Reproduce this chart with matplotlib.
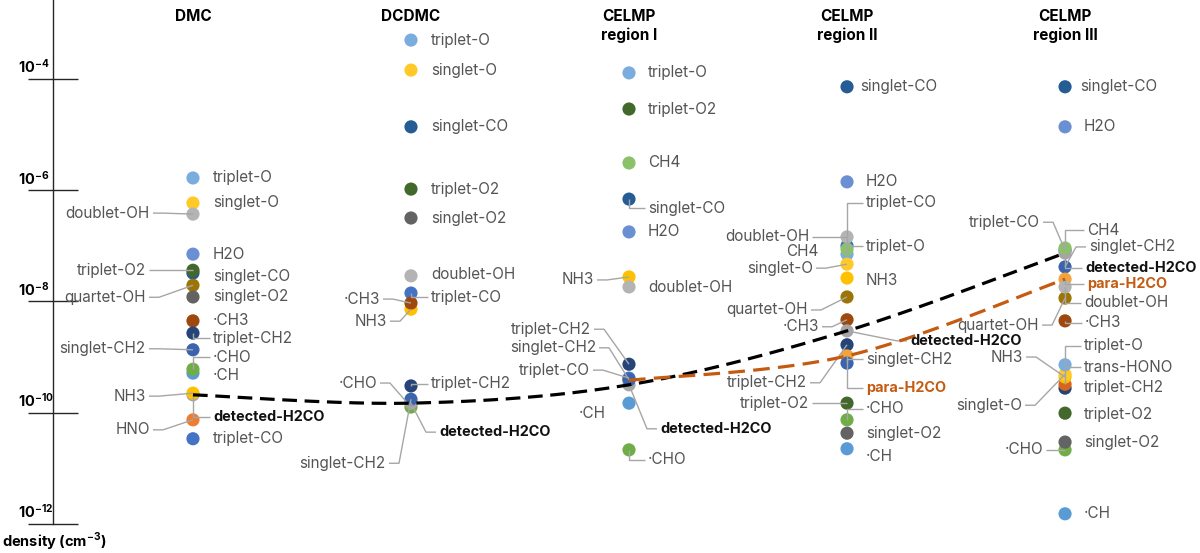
import numpy as np
import matplotlib
matplotlib.use("Agg")
import matplotlib.pyplot as plt
from matplotlib.transforms import blended_transform_factory

plt.rcParams['font.family'] = ['Inter', 'DejaVu Sans']
plt.rcParams['mathtext.fontset'] = 'custom'
plt.rcParams['mathtext.rm'] = 'Inter'
plt.rcParams['mathtext.bf'] = 'Inter:bold'

# ---------------- data ----------------
columns = ["DMC", "DCDMC", "CELMP\nregion I", "CELMP\nregion II", "CELMP\nregion III"]
tick_exponents = [-4, -6, -8, -10, -12]

# log10 of density (cm^-3); list order = drawing order
dmc_species = ["triplet-O", "singlet-O", "doublet-OH", "H2O", "singlet-CO", "triplet-O2",
               "quartet-OH", "singlet-O2", "·CH3", "triplet-CH2", "singlet-CH2", "·CH",
               "·CHO", "detected-H2CO", "NH3", "HNO", "triplet-CO"]
dmc_log_density = [-5.78, -6.23, -6.43, -7.15, -7.49, -7.44, -7.71, -7.92, -8.35, -8.57,
                   -8.87, -9.29, -9.22, -9.68, -9.65, -10.13, -10.47]

dcdmc_species = ["triplet-O", "singlet-O", "singlet-CO", "triplet-O2", "singlet-O2",
                 "doublet-OH", "NH3", "triplet-CO", "·CH3", "triplet-CH2", "·CHO",
                 "detected-H2CO", "singlet-CH2"]
dcdmc_log_density = [-3.30, -3.84, -4.86, -5.98, -6.50, -7.54, -8.14, -7.85, -8.03, -9.52,
                     -9.90, -9.83, -9.76]

celmp1_species = ["triplet-O", "triplet-O2", "CH4", "singlet-CO", "H2O", "NH3", "doublet-OH",
                  "triplet-CH2", "para-H2CO", "detected-H2CO", "triplet-CO", "singlet-CH2",
                  "·CH", "·CHO"]
celmp1_log_density = [-3.89, -4.54, -5.51, -6.16, -6.75, -7.56, -7.74, -9.13, -9.42, -9.50,
                      -9.38, -9.41, -9.83, -10.67]

celmp2_species = ["singlet-CO", "H2O", "triplet-CO", "doublet-OH", "triplet-O", "CH4",
                  "singlet-O", "NH3", "quartet-OH", "·CH3", "detected-H2CO", "triplet-CH2",
                  "para-H2CO", "singlet-CH2", "triplet-O2", "·CHO", "singlet-O2", "·CH"]
celmp2_log_density = [-4.14, -5.85, -7.00, -6.84, -7.15, -7.06, -7.33, -7.58, -7.92, -8.33,
                      -8.53, -8.78, -8.98, -9.11, -9.83, -10.13, -10.37, -10.65]

celmp3_species = ["singlet-CO", "H2O", "triplet-CO", "detected-H2CO", "CH4", "singlet-CH2",
                  "para-H2CO", "quartet-OH", "doublet-OH", "·CH3", "triplet-CH2", "trans-HONO",
                  "NH3", "singlet-O", "triplet-O", "triplet-O2", "·CHO", "singlet-O2", "·CH"]
celmp3_log_density = [-4.14, -4.86, -7.08, -7.13, -7.04, -7.38, -7.60, -7.94, -7.74, -8.35,
                      -9.56, -9.49, -9.36, -9.31, -9.14, -10.01, -10.67, -10.53, -11.82]

column_species = [dmc_species, dcdmc_species, celmp1_species, celmp2_species, celmp3_species]
column_log_density = [dmc_log_density, dcdmc_log_density, celmp1_log_density,
                      celmp2_log_density, celmp3_log_density]

# ---------------- styles ----------------
species_colors = {
    "triplet-O": "#7AADDE", "singlet-O": "#FFC928", "singlet-CO": "#245C93",
    "triplet-O2": "#43682B", "singlet-O2": "#636363", "doublet-OH": "#B4B4B4",
    "H2O": "#6A8FD3", "quartet-OH": "#9C7506", "·CH3": "#9E480E", "triplet-CH2": "#264478",
    "singlet-CH2": "#3A64AE", "·CHO": "#70AD47", "·CH": "#5B9BD5", "NH3": "#FFC000",
    "detected-H2CO": "#A5A5A5", "HNO": "#ED7D31", "triplet-CO": "#4472C4",
    "CH4": "#8BC168", "para-H2CO": "#F4A23A", "trans-HONO": "#D8651C",
}

# label placement: (species, dx px, dy px (up +), leader line)
label_layout = [
    [("triplet-O", 20, 0, False), ("singlet-O", 20, 0, False), ("doublet-OH", -43, 1, True),
     ("H2O", 20, 0, False), ("singlet-CO", 20, -3, False), ("triplet-O2", -47, 0, True),
     ("quartet-OH", -47, -12, True), ("singlet-O2", 20, 0, False), ("·CH3", 20, 0, False),
     ("triplet-CH2", 20, -5, True), ("singlet-CH2", -47, 1, True), ("·CHO", 20, 12, True),
     ("·CH", 20, -2, False), ("NH3", -47, -3, True), ("detected-H2CO", 20, -22, True),
     ("HNO", -43, -10, True), ("triplet-CO", 20, 0, False)],
    [("triplet-O", 20, 0, False), ("singlet-O", 20, 0, False), ("singlet-CO", 20, 0, False),
     ("triplet-O2", 20, 0, False), ("singlet-O2", 20, 0, False), ("doublet-OH", 20, 1, False),
     ("triplet-CO", 20, -4, True), ("·CH3", -31, 4, True), ("NH3", -24, -12, True),
     ("triplet-CH2", 20, 2, True), ("·CHO", -34, 24, True), ("detected-H2CO", 28, -29, True),
     ("singlet-CH2", -25, -64, True)],
    [("triplet-O", 19, 0, False), ("triplet-O2", 19, 0, False), ("CH4", 19, 0, False),
     ("singlet-CO", 19, -9, True), ("H2O", 19, 0, False), ("NH3", -35, -3, True),
     ("doublet-OH", 19, -1, False), ("triplet-CH2", -38, 35, True),
     ("singlet-CH2", -33, 32, True), ("triplet-CO", -39, 8, True), ("·CH", -23, -10, False),
     ("detected-H2CO", 31, -44, True), ("·CHO", 19, -10, True)],
    [("singlet-CO", 13, 0, False), ("H2O", 19, 0, False), ("triplet-CO", 19, 43, True),
     ("doublet-OH", -38, 0, True), ("CH4", -29, -2, False), ("triplet-O", 19, 8, True),
     ("singlet-O", -34, -4, True), ("NH3", 19, -2, False), ("quartet-OH", -39, -13, True),
     ("·CH3", -28, -7, True), ("detected-H2CO", 63, -10, True), ("singlet-CH2", 19, 4, True),
     ("triplet-CH2", -40, -38, True), ("para-H2CO", 19, -32, True),
     ("triplet-O2", -38, 0, True), ("·CHO", 19, 11, True), ("singlet-O2", 19, 0, False),
     ("·CH", 19, -8, False)],
    [("singlet-CO", 15, 0, False), ("H2O", 19, 0, False), ("triplet-CO", -25, 28, True),
     ("CH4", 22, 18, True), ("singlet-CH2", 24, 20, True), ("detected-H2CO", 20, -15, True),
     ("para-H2CO", 22, -5, True), ("doublet-OH", 19, -16, True),
     ("quartet-OH", -26, -27, True), ("·CH3", 20, -2, True), ("triplet-O", 19, 19, True),
     ("NH3", -42, 20, True), ("trans-HONO", 19, 17, True), ("triplet-CH2", 19, 1, False),
     ("singlet-O", -43, -31, True), ("triplet-O2", 19, -1, False),
     ("singlet-O2", 19, 0, False), ("·CHO", -22, 0, True), ("·CH", 19, 0, False)],
]

label_color = "#555555"
leader_color = "#A6A6A6"
label_size = 11
bold_label_size = 10.4

# ---------------- figure ----------------
W, H = 1200, 553
fig = plt.figure(figsize=(W / 100, H / 100), dpi=100)
ax = fig.add_axes([53 / W, 0, (W - 53) / W, 1])
ax.set_yscale('log')
ax.set_xlim(-0.642, 4.619)
ax.set_ylim(10 ** -12.525, 10 ** -2.579)
for s in ["top", "right", "bottom"]:
    ax.spines[s].set_visible(False)
ax.spines["left"].set_bounds(10.0 ** tick_exponents[-1], 10 ** -2.579)
ax.spines["left"].set_linewidth(1.0)
ax.spines["left"].set_color("#262626")
ax.set_xticks([])
ax.set_yticks([10.0 ** e for e in tick_exponents])
ax.yaxis.set_minor_locator(matplotlib.ticker.NullLocator())
ax.tick_params(axis='y', direction='inout', length=36, width=1.0, color="#262626",
               labelleft=False)
ax.patch.set_visible(False)

trans_fig_data = blended_transform_factory(fig.transFigure, ax.transData)
for e in tick_exponents:
    ax.annotate(r"$\mathbf{10^{%d}}$" % e, xy=(18 / W, 10.0 ** e), xycoords=trans_fig_data,
                xytext=(0, 3), textcoords="offset pixels", ha="left", va="bottom",
                fontsize=10.5, color="black")

fig.text(2 / W, 1 - 541 / H, r"density (cm$^{\mathbf{-3}}$)", fontsize=10.5,
         fontweight="bold", ha="left", va="center")

trans_data_fig = blended_transform_factory(ax.transData, fig.transFigure)
for i, name in enumerate(columns):
    ax.text(i, 1 - 9 / H, name, transform=trans_data_fig, ha="center", va="top",
            fontsize=11, fontweight="bold", linespacing=1.25)


def shift(x, y, dx, dy):
    px, py = ax.transData.transform((x, y))
    return ax.transData.inverted().transform((px + dx, py + dy))


for i, (sp_list, logd) in enumerate(zip(column_species, column_log_density)):
    dens = 10.0 ** np.array(logd)
    xs = np.full(len(sp_list), i, dtype=float)
    ax.scatter(xs, dens, s=90, c=[species_colors[s] for s in sp_list], linewidths=0,
               zorder=2)
    lookup = dict(zip(sp_list, dens))
    for sp, dx, dy, leader in label_layout[i]:
        d = lookup[sp]
        tx, ty = shift(i, d, dx, dy)
        if sp == "detected-H2CO":
            kw = dict(color="#111111", fontweight="bold", fontsize=bold_label_size)
        elif sp == "para-H2CO":
            kw = dict(color="#C55A11", fontweight="bold", fontsize=bold_label_size)
        else:
            kw = dict(color=label_color, fontsize=label_size)
        ax.text(tx, ty, sp, ha="left" if dx > 0 else "right", va="center",
                zorder=4, **kw)
        if leader:
            sgn = 1 if dx > 0 else -1
            edge = dx - 3 * sgn
            stub = 0 if abs(edge) <= 20 else edge - 10 * sgn
            p1 = shift(i, d, edge, dy)
            p2 = shift(i, d, stub, dy)
            ax.plot([p1[0], p2[0], i], [p1[1], p2[1], d], color=leader_color, lw=1.0,
                    zorder=2.5, solid_capstyle="butt")


def catmull_rom(xs, ys, n=40):
    pts = np.column_stack([xs, ys]).astype(float)
    pts = np.vstack([pts[0], pts, pts[-1]])
    out = []
    for k in range(1, len(pts) - 2):
        p0, p1, p2, p3 = pts[k - 1], pts[k], pts[k + 1], pts[k + 2]
        t = np.linspace(0, 1, n)[:, None]
        seg = 0.5 * ((2 * p1) + (-p0 + p2) * t + (2 * p0 - 5 * p1 + 4 * p2 - p3) * t ** 2
                     + (-p0 + 3 * p1 - 3 * p2 + p3) * t ** 3)
        out.append(seg)
    out = np.vstack(out)
    return out[:, 0], out[:, 1]


for sp, color, dashes in [("detected-H2CO", "black", (4.6, 2.4)),
                          ("para-H2CO", "#C55A11", (5.2, 2.6))]:
    cx, cy = [], []
    for i, (sp_list, logd) in enumerate(zip(column_species, column_log_density)):
        if sp in sp_list:
            cx.append(i)
            cy.append(logd[sp_list.index(sp)])
    sx, sy = catmull_rom(cx, cy)
    ax.plot(sx, 10.0 ** sy, color=color, lw=2.3, dashes=dashes, zorder=3,
            dash_capstyle="butt")

fig.savefig("out.png", dpi=100)
